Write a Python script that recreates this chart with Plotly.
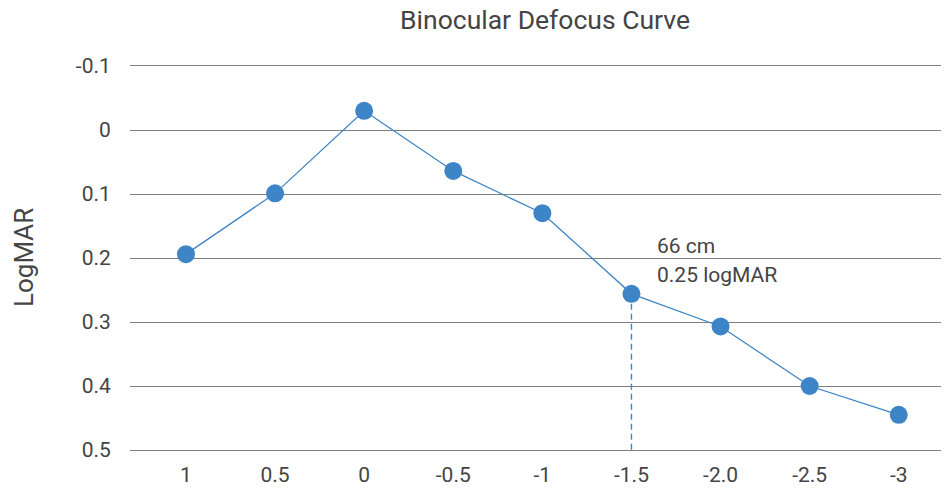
import plotly.graph_objects as go

categories = ["1", "0.5", "0", "-0.5", "-1", "-1.5", "-2.0", "-2.5", "-3"]
logmar = [0.194, 0.099, -0.030, 0.064, 0.130, 0.256, 0.307, 0.400, 0.445]
y_ticks = [-0.1, 0, 0.1, 0.2, 0.3, 0.4, 0.5]
y_tick_labels = ["-0.1", "0", "0.1", "0.2", "0.3", "0.4", "0.5"]
marked_index = 5
note_lines = ["66 cm", "0.25 logMAR"]
note_y = [0.181, 0.227]

blue = "#3d85c6"
grid = "#7f7f7f"
text_color = "#444444"
font = "Roboto"

fig = go.Figure()
fig.add_trace(go.Scatter(
    x=categories, y=logmar, mode="lines+markers",
    line=dict(color=blue, width=1.3),
    marker=dict(color=blue, size=18),
    showlegend=False,
))
fig.add_trace(go.Scatter(
    x=[categories[marked_index], categories[marked_index]],
    y=[logmar[marked_index], y_ticks[-1]],
    mode="lines",
    line=dict(color=blue, width=1.4, dash="6px,4px"),
    hoverinfo="skip", showlegend=False,
))

for txt, yv in zip(note_lines, note_y):
    fig.add_annotation(x=marked_index, y=yv, text=txt,
                       xref="x", yref="y", xanchor="left", yanchor="middle",
                       xshift=24, showarrow=False,
                       font=dict(family=font, size=21, color=text_color))

fig.add_annotation(x=0, y=0.5, xref="paper", yref="paper", text="LogMAR",
                   textangle=-90, xanchor="center", yanchor="middle",
                   xshift=-106, showarrow=False,
                   font=dict(family=font, size=26, color=text_color))

fig.update_layout(
    width=949, height=488,
    margin=dict(l=130, r=8, t=66, b=38),
    paper_bgcolor="white", plot_bgcolor="white",
    font=dict(family=font, size=21, color=text_color),
    title=dict(text="Binocular Defocus Curve", x=0.5743, xanchor="center",
               y=0.959, yanchor="middle",
               font=dict(family=font, size=26.5, color=text_color)),
    xaxis=dict(type="category", categoryorder="array", categoryarray=categories,
               range=[-0.628, 8.474], showgrid=False, automargin=False,
               showline=True, linecolor=grid, linewidth=1, mirror=True,
               ticks="outside", ticklen=6, tickcolor="rgba(0,0,0,0)",
               tickfont=dict(size=21, color=text_color),
               zeroline=False),
    yaxis=dict(range=[0.5, -0.1], tickvals=y_ticks, ticktext=y_tick_labels,
               showgrid=True, gridcolor=grid, gridwidth=1, zeroline=False,
               showline=False, ticks="outside", ticklen=14, automargin=False,
               tickcolor="rgba(0,0,0,0)",
               tickfont=dict(size=21, color=text_color)),
)

fig.write_html("out.html", config={"displayModeBar": False},
               post_script="document.body.style.margin='0';document.body.style.overflow='hidden';")
